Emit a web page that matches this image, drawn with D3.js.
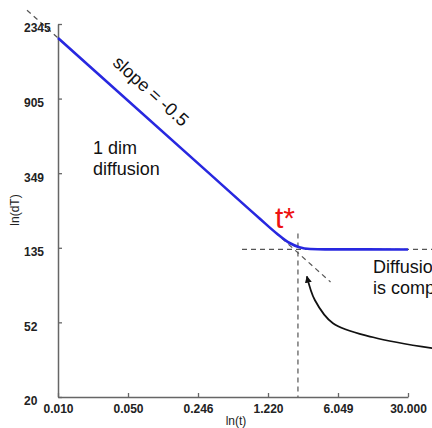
<!DOCTYPE html>
<html><head><meta charset="utf-8">
<script src="https://cdn.jsdelivr.net/npm/d3@7"></script>
<style>
html,body{margin:0;padding:0;background:#fff;overflow:hidden}
svg{display:block}
</style></head>
<body>
<svg id="chart" width="432" height="428"></svg>
<script>
// ---- data ----
const xTickValues = [0.01, 0.0496, 0.246, 1.22, 6.049, 30];
const xTickLabels = ["0.010", "0.050", "0.246", "1.220", "6.049", "30.000"];
const yTickValues = [20, 51.9, 134.5, 348.8, 904.5, 2345];
const yTickLabels = ["20", "52", "135", "349", "905", "2345"];
// measured curve ln(dT) vs ln(t)
const curveT  = [0.01, 0.3, 1.0, 1.5, 2.0, 2.5, 3.2, 4.5, 30];
const curveDT = [1962, 358.2, 196.2, 161, 143, 135.5, 132.4, 131.8, 131.7];
// asymptote (slope -0.5)
const asymT  = [0.00492, 5.1];
const asymDT = [2797, 86.9];
// plateau guide and t* guide
const plateauT = [0.673, 60], plateauDT = [131.7, 131.7];
const tStarT = [2.42, 2.42], tStarDT = [161.5, 20];
// annotation arrow path
const arrowT  = [52, 13.5, 5.39, 3.57, 2.97];
const arrowDT = [37.3, 42.9, 51.3, 68.8, 93.4];

// ---- scales ----
const svg = d3.select("#chart");
const x = d3.scaleLog().domain([0.01, 30]).range([58, 408]);
const y = d3.scaleLog().domain([20, 2345]).range([397, 24]);

const zip = (a, b) => a.map((v, i) => [v, b[i]]);
const line = d3.line().x(d => x(d[0])).y(d => y(d[1]));

const defs = svg.append("defs");
defs.append("marker").attr("id", "ah").attr("viewBox", "0 0 10 10")
  .attr("refX", 9).attr("refY", 5).attr("markerWidth", 7).attr("markerHeight", 7)
  .attr("markerUnits", "userSpaceOnUse").attr("orient", "auto")
  .append("path").attr("d", "M0,0 L10,5 L0,10 Z").attr("fill", "#111");

// dashed guides
const dash = {stroke: "#555", "stroke-width": 1.2, "stroke-dasharray": "5,4", fill: "none"};
function dashed(t, v) {
  const p = svg.append("path").attr("d", line(zip(t, v)));
  Object.entries(dash).forEach(([k, val]) => p.attr(k, val));
}
dashed(asymT, asymDT);
dashed(plateauT, plateauDT);
dashed(tStarT, tStarDT);

// axes
const fontTick = "bold 12px 'Liberation Sans', Arial, sans-serif";
const xAxis = svg.append("g").attr("transform", "translate(0,397)")
  .call(d3.axisBottom(x).tickValues(xTickValues).tickSizeInner(-4).tickSizeOuter(0)
    .tickFormat((d, i) => xTickLabels[i]));
const yAxis = svg.append("g").attr("transform", "translate(58,0)")
  .call(d3.axisLeft(y).tickValues(yTickValues).tickSizeInner(-4).tickSizeOuter(0)
    .tickFormat((d, i) => yTickLabels[i]));
[xAxis, yAxis].forEach(g => {
  g.select(".domain").attr("stroke", "#666").attr("stroke-width", 1.5);
  g.selectAll(".tick line").attr("stroke", "#666").attr("stroke-width", 1.3);
  g.selectAll(".tick text").style("font", fontTick).attr("fill", "#222");
});
xAxis.selectAll(".tick text").attr("y", 16).attr("dy", 0);
yAxis.selectAll(".tick text").attr("x", -34).attr("text-anchor", "start").attr("dy", "0.32em")
  .attr("transform", "translate(0,4)");

// main curve
svg.append("path")
  .attr("d", d3.line().x(d => x(d[0])).y(d => y(d[1])).curve(d3.curveMonotoneX)(zip(curveT, curveDT)))
  .attr("fill", "none").attr("stroke", "#2828e0").attr("stroke-width", 2.6);

// arrow
svg.append("path").attr("d", d3.line().x(d => x(d[0])).y(d => y(d[1])).curve(d3.curveCatmullRom)(zip(arrowT, arrowDT)))
  .attr("fill", "none").attr("stroke", "#111").attr("stroke-width", 1.8).attr("marker-end", "url(#ah)");

// texts
const ff = "'Liberation Sans', Arial, sans-serif";
svg.append("text").text("slope = -0.5").attr("transform", "translate(151,91) rotate(42)")
  .attr("text-anchor", "middle").attr("dy", "0.35em").style("font", `18px ${ff}`).attr("fill", "#111");
svg.append("text").attr("x", 93).attr("y", 154).text("1 dim").style("font", `18px ${ff}`).attr("fill", "#111");
svg.append("text").attr("x", 93).attr("y", 175).text("diffusion").style("font", `18px ${ff}`).attr("fill", "#111");
svg.append("text").attr("x", 373).attr("y", 273).text("Diffusion").style("font", `18px ${ff}`).attr("fill", "#111");
svg.append("text").attr("x", 373).attr("y", 294).text("is complete").style("font", `18px ${ff}`).attr("fill", "#111");
svg.append("text").attr("x", 275).attr("y", 228).text("t*").style("font", `30px ${ff}`).attr("fill", "#ee1111");
svg.append("text").attr("x", 236).attr("y", 425).attr("text-anchor", "middle").text("ln(t)")
  .style("font", `12px ${ff}`).attr("fill", "#222");
svg.append("text").attr("transform", "translate(19,210) rotate(-90)").attr("text-anchor", "middle").text("ln(dT)")
  .style("font", `12px ${ff}`).attr("fill", "#222");
</script>
</body></html>
